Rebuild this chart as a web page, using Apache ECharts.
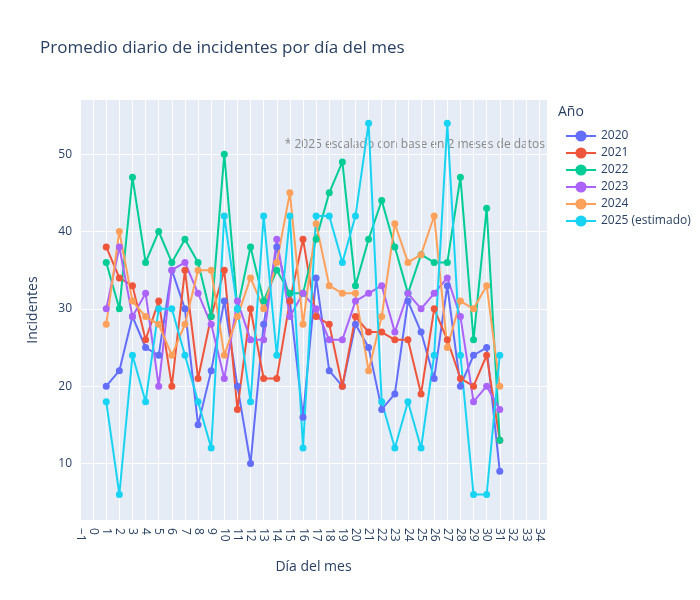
<!DOCTYPE html>
<html>
<head>
<meta charset="utf-8">
<script src="https://cdn.jsdelivr.net/npm/echarts@6/dist/echarts.min.js"></script>
<style>html,body{margin:0;padding:0;background:#fff}#main{width:700px;height:600px}</style>
</head>
<body>
<div id="main"></div>
<script>
var days = [];
for (var d = 1; d <= 31; d++) days.push(d);

var y2020 = [20,22,29,25,24,35,30,15,22,31,20,10,28,38,31,16,34,22,20,28,25,17,19,31,27,21,33,20,24,25,9];
var y2021 = [38,34,33,26,31,20,35,21,29,35,17,30,21,21,31,39,29,28,20,29,27,27,26,26,19,30,26,21,20,24,13];
var y2022 = [36,30,47,36,40,36,39,36,29,50,30,38,31,35,32,32,39,45,49,33,39,44,38,32,37,36,36,47,26,43,13];
var y2023 = [30,38,29,32,20,35,36,32,28,21,31,26,26,39,29,32,30,26,26,31,32,33,27,32,30,32,34,29,18,20,17];
var y2024 = [28,40,31,29,28,24,28,35,35,24,29,34,30,36,45,28,41,33,32,32,22,29,41,36,37,42,25,31,30,33,20];
var y2025 = [18,6,24,18,30,30,24,18,12,42,30,18,42,24,42,12,42,42,36,42,54,18,12,18,12,24,54,24,6,6,24];

var yTicks = [10, 20, 30, 40, 50];
var names = ['2020','2021','2022','2023','2024','2025 (estimado)'];
var colors = ['#636efa','#EF553B','#00cc96','#ab63fa','#FFA15A','#19d3f3'];
var values = [y2020, y2021, y2022, y2023, y2024, y2025];

var myChart = echarts.init(document.getElementById('main'));

myChart.setOption({
    color: colors,
    textStyle: { fontFamily: 'Open Sans, Arial, sans-serif' },
    title: {
        text: 'Promedio diario de incidentes por día del mes',
        left: 35, top: 35,
        textStyle: { fontSize: 17, fontWeight: 'normal', color: '#2a3f5f' }
    },
    legend: {
        orient: 'vertical', left: 560, top: 125, itemGap: 5,
        itemWidth: 30, itemHeight: 14,
        textStyle: { color: '#2a3f5f', fontSize: 12 },
        data: names
    },
    grid: {
        left: 80, right: 153, top: 100, bottom: 80,
        show: true, backgroundColor: '#e5ecf6', borderWidth: 0
    },
    xAxis: {
        type: 'value', min: -1, max: 34.6, interval: 1,
        name: 'Día del mes', nameLocation: 'middle', nameGap: 40,
        nameTextStyle: { color: '#2a3f5f', fontSize: 14 },
        axisLine: { show: false }, axisTick: { show: false },
        axisLabel: {
            rotate: -90, color: '#2a3f5f', fontSize: 12, showMaxLabel: false,
            formatter: function (v) { return v < 0 ? '\u2212' + (-v) : String(v); }
        },
        splitLine: { lineStyle: { color: '#fff', width: 1 } }
    },
    yAxis: {
        type: 'value', min: 2.7, max: 57,
        name: 'Incidentes', nameLocation: 'middle', nameGap: 40,
        nameTextStyle: { color: '#2a3f5f', fontSize: 14 },
        axisLine: { show: false },
        axisTick: { show: false, customValues: yTicks },
        axisLabel: { color: '#2a3f5f', fontSize: 12, customValues: yTicks },
        splitLine: { lineStyle: { color: '#fff', width: 1 } }
    },
    graphic: [{
        type: 'text', right: 155, top: 139,
        style: { text: '* 2025 escalado con base en 2 meses de datos', fill: '#888', fontSize: 12, fontFamily: 'Open Sans, Arial, sans-serif' }
    }, {
        type: 'text', left: 558, top: 105,
        style: { text: 'Año', fill: '#2a3f5f', fontSize: 14, fontFamily: 'Open Sans, Arial, sans-serif' }
    }],
    series: values.map(function (vals, i) {
        return {
            name: names[i], type: 'line',
            data: days.map(function (d, j) { return [d, vals[j]]; }),
            symbol: 'circle', symbolSize: 7,
            lineStyle: { width: 2 }
        };
    })
});
</script>
</body>
</html>
